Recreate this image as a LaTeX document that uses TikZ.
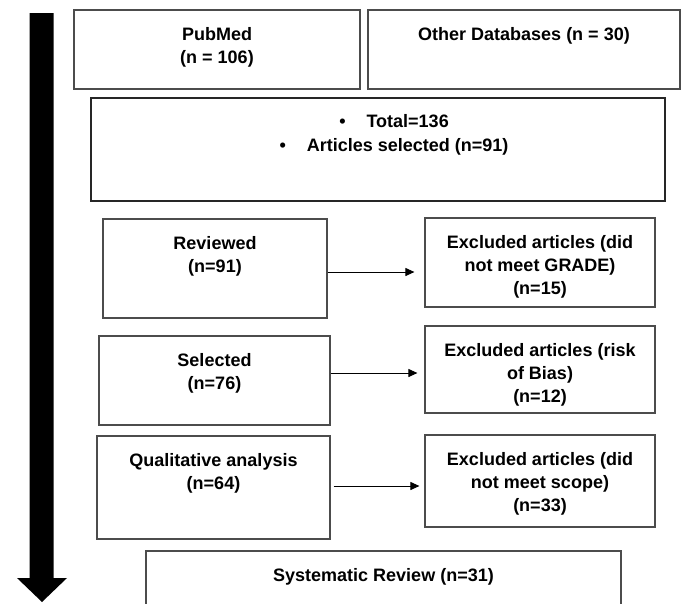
\documentclass[tikz,border=0pt]{standalone}
\usepackage{fontspec}
\setmainfont{Liberation Sans}
\usetikzlibrary{arrows.meta}

\tikzset{
  box/.style={draw=black!70, line width=1.2pt, inner sep=0pt},
  boxtext/.style={font=\fontsize{18}{23}\selectfont\bfseries, align=center, anchor=north, inner sep=0pt},
  flow/.style={line width=1pt, -{Triangle[length=9pt,width=8pt]}}
}

\begin{document}
\begin{tikzpicture}[x=1pt, y=-1pt]
        \useasboundingbox (0,0) rectangle (684,603);
        \clip (0,0) rectangle (684,603);

        % Timeline arrow
        \fill (29.5,13) -- (53.5,13) -- (53.5,578) -- (67,578) -- (42,602) -- (17,578) -- (29.5,578) -- cycle;

        % Sources
        \node[box, minimum width=286pt, minimum height=79pt] (pubmed) at (217,49.5) {};
        \node[boxtext] (pubmedtxt) at ([yshift=-17.5pt]pubmed.north) {PubMed\\(n = 106)};

        \node[box, minimum width=312pt, minimum height=79pt] (otherdb) at (524,49.5) {};
        \node[boxtext] (otherdbtxt) at ([yshift=-17.5pt]otherdb.north) {Other Databases (n = 30)};

        % Total
        \node[box, draw=black!85, minimum width=574pt, minimum height=103pt] (total) at (378,149.5) {};
        \node[boxtext] (totaltxt) at (394,114.5) {\textbullet\hspace{21pt}Total=136\\[1pt]\textbullet\hspace{21pt}Articles selected (n=91)};

        % Screening steps
        \node[box, minimum width=224pt, minimum height=99pt] (reviewed) at (215,268.5) {};
        \node[boxtext] (reviewedtxt) at ([yshift=-17.5pt]reviewed.north) {Reviewed\\(n=91)};

        \node[box, minimum width=231pt, minimum height=89pt] (selected) at (214.5,380.5) {};
        \node[boxtext] (selectedtxt) at ([yshift=-17.5pt]selected.north) {Selected\\(n=76)};

        \node[box, minimum width=233pt, minimum height=103pt] (qual) at (213.5,487.5) {};
        \node[boxtext] (qualtxt) at ([yshift=-17.5pt]qual.north) {Qualitative analysis\\(n=64)};

        % Exclusions
        \node[box, minimum width=230pt, minimum height=89pt] (exgrade) at (540,262.5) {};
        \node[boxtext] (exgradetxt) at ([yshift=-17.5pt]exgrade.north) {Excluded articles (did\\not meet GRADE)\\(n=15)};

        \node[box, minimum width=230pt, minimum height=87pt] (exbias) at (540,369.5) {};
        \node[boxtext] (exbiastxt) at ([yshift=-17.5pt]exbias.north) {Excluded articles (risk\\of Bias)\\(n=12)};

        \node[box, minimum width=230pt, minimum height=92pt] (exscope) at (540,481) {};
        \node[boxtext] (exscopetxt) at ([yshift=-17.5pt]exscope.north) {Excluded articles (did\\not meet scope)\\(n=33)};

        % Result
        \node[box, minimum width=475pt, minimum height=69pt] (systrev) at (383.5,585.5) {};
        \node[boxtext] (systrevtxt) at ([yshift=-17.5pt]systrev.north) {Systematic Review (n=31)};

        % Arrows
        \draw[flow, shorten >=10pt] (reviewed.east |- 0,272) -- (exgrade.west |- 0,272);
        \draw[flow, shorten >=7pt] (selected.east |- 0,373) -- (exbias.west |- 0,373);
        \draw[flow, shorten <=3pt, shorten >=5pt] (qual.east |- 0,486) -- (exscope.west |- 0,486);
\end{tikzpicture}
\end{document}
